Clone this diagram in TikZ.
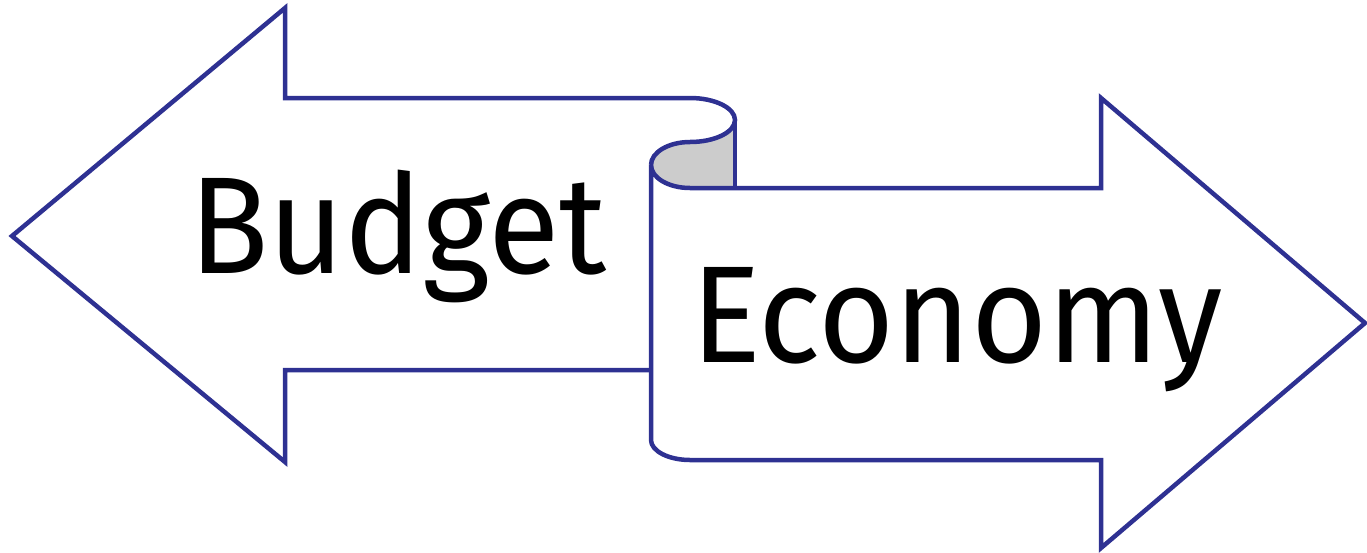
\documentclass[tikz,border=0pt]{standalone}
\usepackage{fontspec}
\setmainfont{Fira Sans}
\newfontfamily\labelfont[FakeStretch=0.947]{Fira Sans}
\definecolor{arrowblue}{RGB}{46,49,146}
\definecolor{curlgrey}{RGB}{204,204,204}
\begin{document}
\begin{tikzpicture}[x=1pt,y=-1pt,
  outline/.style={draw=arrowblue,line width=4.5pt,line join=miter},
  label/.style={inner sep=0pt,anchor=base west,font=\labelfont\fontsize{138}{160}\selectfont}]
\useasboundingbox (0,0) rectangle (1367,552);
% grey inside of the curl
\fill[curlgrey] (735,120) .. controls (735,132.1) and (714.8,142) .. (690,142)
  .. controls (668.5,142) and (651,152.3) .. (651,165)
  .. controls (651,177.7) and (668.5,188) .. (690,188) -- (735,188) -- cycle;
% left arrow
\draw[outline] (651,370) -- (285,370) -- (285,462) -- (12,236) -- (285,8) -- (285,98) -- (690,98)
  .. controls (714.8,98) and (735,107.9) .. (735,120)
  .. controls (735,132.1) and (714.8,142) .. (690,142)
  .. controls (668.5,142) and (651,152.3) .. (651,165);
% right arrow
\draw[outline] (651,165) .. controls (651,177.7) and (668.5,188) .. (690,188) -- (1101,188)
  -- (1101,98) -- (1365,323) -- (1101,548) -- (1101,460) -- (690,460)
  .. controls (668.5,460) and (651,451) .. (651,440) -- cycle;
\draw[outline] (735,120) -- (735,188);
\node[label] (budget) at (189,273) {Budget};
\node[label] (economy) at (691,362) {Economy};
\end{tikzpicture}
\end{document}
